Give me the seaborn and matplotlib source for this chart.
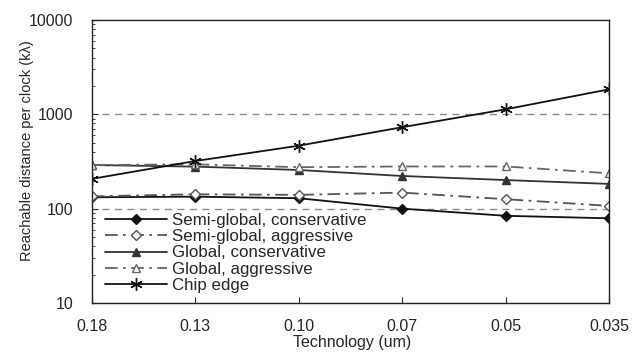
import matplotlib
matplotlib.use("Agg")
import matplotlib.pyplot as plt
import seaborn as sns
import pandas as pd
import numpy as np

categories = ["0.18", "0.13", "0.10", "0.07", "0.05", "0.035"]
semi_cons = [132, 134, 129, 100, 84, 79]
semi_aggr = [135, 142, 140, 148, 126, 107]
glob_cons = [290, 279, 257, 222, 201, 183]
glob_aggr = [290, 295, 275, 280, 280, 237]
chip_edge = [207, 320, 465, 730, 1130, 1840]
ref_lines = [1000, 100]

sns.set_style("ticks")
plt.rcParams['font.family'] = ['Liberation Sans', 'DejaVu Sans']

fig = plt.figure(figsize=(6.42, 3.55), dpi=100)
ax = fig.add_axes([0.1433, 0.1465, 0.8053, 0.7972])

idx = np.arange(len(categories))

for r in ref_lines:
    sns.lineplot(x=[0.1, len(categories) - 1], y=[r, r], ax=ax, color="#8a8a8a",
                 linestyle=(0, (5, 4)), linewidth=1.0, legend=False)

series = [
    ("Semi-global, conservative", semi_cons, "-", "D", 5, "#111111", "#111111"),
    ("Semi-global, aggressive", semi_aggr, (0, (7, 3, 1.5, 3)), "D", 5, "#555555", "white"),
    ("Global, conservative", glob_cons, "-", "^", 6, "#333333", "#333333"),
    ("Global, aggressive", glob_aggr, (0, (7, 3, 1.5, 3)), "^", 6, "#666666", "white"),
    ("Chip edge", chip_edge, "-", (6, 2, 0), 9, "#111111", "#111111"),
]

for name, vals, ls, mk, ms, col, fc in series:
    sns.lineplot(x=idx, y=vals, ax=ax, color=col, linestyle=ls, linewidth=1.3,
                 marker=mk, markersize=ms, markerfacecolor=fc, markeredgecolor=col,
                 markeredgewidth=1.0, label=name)

ax.set_yscale("log")
ax.set_ylim(10, 10000)
ax.set_xlim(0, len(categories) - 1)
ax.set_xticks(idx)
ax.set_xticklabels(categories)
ax.set_yticks([10, 100, 1000, 10000])
ax.set_yticklabels(["10", "100", "1000", "10000"])
ax.tick_params(axis="both", direction="in", labelsize=11.5, length=4)
ax.tick_params(axis="x", pad=11.5)
ax.tick_params(axis="y", pad=13.5)
ax.tick_params(axis="y", which="minor", direction="in", length=2.5)
ax.tick_params(axis="x", which="minor", bottom=False)
for s in ax.spines.values():
    s.set_visible(True)
    s.set_linewidth(1.0)
    s.set_color("#222222")

ax.set_xlabel("Technology (um)", fontsize=11.5)
ax.set_ylabel("Reachable distance per clock (kλ)", fontsize=10.5)
ax.xaxis.set_label_coords(0.503, -0.113)
ax.yaxis.set_label_coords(-0.113, 0.537)

leg = ax.legend(loc="lower left", bbox_to_anchor=(0.006, 0.0), frameon=False,
                fontsize=12.2, handlelength=3.65, handletextpad=0.3,
                labelspacing=0.07, borderaxespad=0.2)

fig.savefig("out.png", dpi=100)
